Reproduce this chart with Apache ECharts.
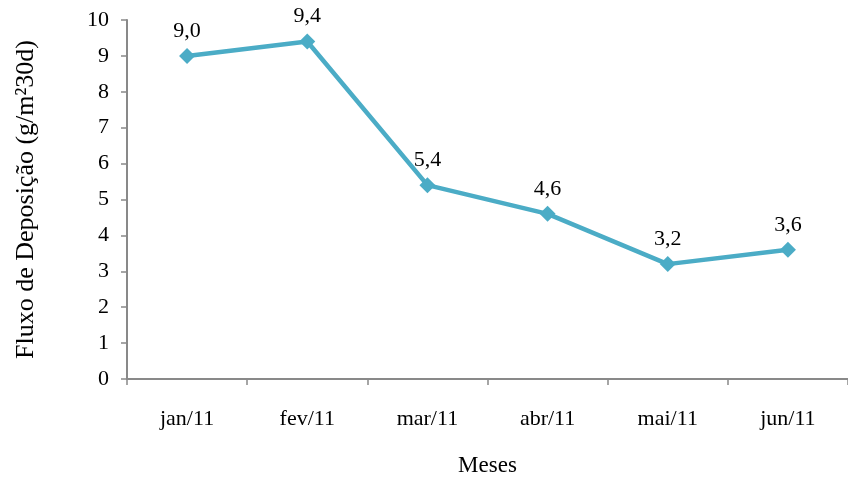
<!DOCTYPE html>
<html>
<head>
<meta charset="utf-8">
<script src="https://cdn.jsdelivr.net/npm/echarts@6/dist/echarts.min.js"></script>
<style>
  html, body { margin: 0; padding: 0; background: #fff; }
  #chart { width: 848px; height: 479px; }
</style>
</head>
<body>
<div id="chart"></div>
<script>
// Monthly deposition flux, Jan–Jun 2011
const months = ['jan/11', 'fev/11', 'mar/11', 'abr/11', 'mai/11', 'jun/11'];
const fluxValues = [9.0, 9.4, 5.4, 4.6, 3.2, 3.6];
const yTicks = [0, 1, 2, 3, 4, 5, 6, 7, 8, 9, 10];

const FONT = '"Liberation Serif", "DejaVu Serif", serif';
const LINE_COLOR = '#4bacc6';
const AXIS_COLOR = '#898989';

const chart = echarts.init(document.getElementById('chart'), null, { renderer: 'canvas' });

chart.setOption({
  animation: false,
  backgroundColor: '#ffffff',
  grid: {
    left: 127, right: 0, top: 20, bottom: 100,
    containLabel: false,
    outerBoundsMode: 'none'
  },
  xAxis: {
    type: 'category',
    data: months,
    boundaryGap: true,
    name: 'Meses',
    nameLocation: 'middle',
    nameGap: 75,
    nameTextStyle: { fontFamily: FONT, fontSize: 23, color: '#000' },
    axisLine: { lineStyle: { color: AXIS_COLOR, width: 2 } },
    axisTick: { show: true, inside: false, length: 6, alignWithLabel: false, lineStyle: { color: AXIS_COLOR, width: 1.5 } },
    axisLabel: { fontFamily: FONT, fontSize: 22, color: '#000', margin: 29 },
    splitLine: { show: false }
  },
  yAxis: {
    type: 'value',
    min: yTicks[0],
    max: yTicks[yTicks.length - 1],
    interval: 1,
    name: 'Fluxo de Deposição (g/m²30d)',
    nameLocation: 'middle',
    nameGap: 88,
    nameRotate: 90,
    nameTextStyle: { fontFamily: FONT, fontSize: 26, color: '#000' },
    axisLine: { show: true, lineStyle: { color: AXIS_COLOR, width: 2 } },
    axisTick: { show: true, inside: false, length: 6, lineStyle: { color: AXIS_COLOR, width: 1.5 } },
    axisLabel: { fontFamily: FONT, fontSize: 22, color: '#000', margin: 18 },
    splitLine: { show: false }
  },
  series: [{
    type: 'line',
    data: fluxValues,
    symbol: 'diamond',
    symbolSize: 16,
    lineStyle: { color: LINE_COLOR, width: 4.5 },
    itemStyle: { color: LINE_COLOR },
    label: {
      show: true,
      position: 'top',
      distance: 6,
      fontFamily: FONT,
      fontSize: 22,
      color: '#000',
      formatter: p => p.value.toFixed(1).replace('.', ',')
    }
  }]
});
</script>
</body>
</html>
